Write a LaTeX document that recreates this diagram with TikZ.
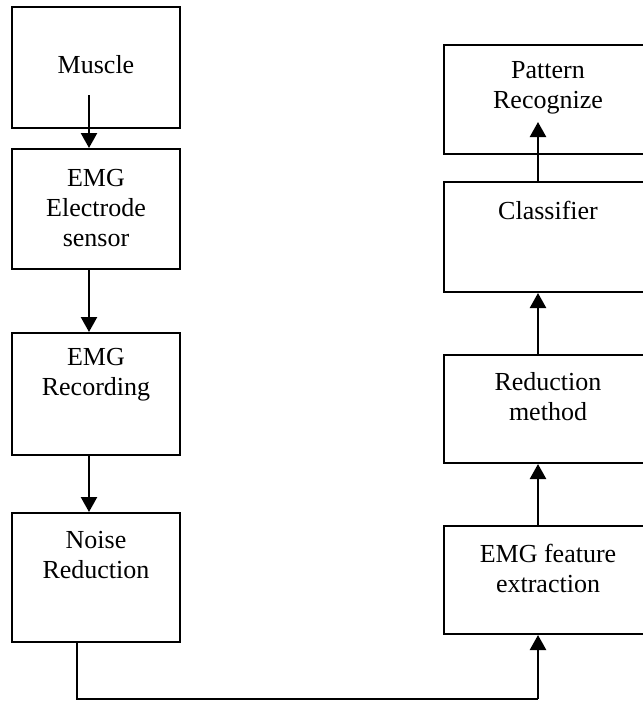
\documentclass[tikz,border=0pt]{standalone}
\usepackage{fontspec}
\setmainfont{Liberation Serif}
\usetikzlibrary{arrows.meta}
\begin{document}
\begin{tikzpicture}[x=1pt,y=-1pt,
  box/.style={draw=black,line width=2pt,rectangle,inner sep=0pt},
  txt/.style={align=center,inner sep=0pt,font=\fontsize{26}{30}\selectfont},
  arr/.style={line width=2.4pt,-{Triangle[length=15pt,width=16pt]}},
  conn/.style={line width=2pt}]
\path[use as bounding box,clip] (0,0) rectangle (643,702);
% left column
\node[box,minimum width=168pt,minimum height=121pt] (muscle) at (96,67.5) {};
\node[txt] (muscleT) at (96,65) {Muscle};
\node[box,minimum width=168pt,minimum height=120pt] (elec) at (96,209) {};
\node[txt] (elecT) at (96,208) {EMG\\Electrode\\sensor};
\node[box,minimum width=168pt,minimum height=122pt] (rec) at (96,394) {};
\node[txt] (recT) at (96,375) {EMG\\Recording};
\node[box,minimum width=168pt,minimum height=129pt] (noise) at (96,577.5) {};
\node[txt] (noiseT) at (96,555) {Noise\\Reduction};
% right column
\node[box,minimum width=208pt,minimum height=109pt] (pat) at (548,99.5) {};
\node[txt] (patT) at (548,87.5) {Pattern\\Recognize};
\node[box,minimum width=208pt,minimum height=110pt] (cls) at (548,237) {};
\node[txt] (clsT) at (548,210) {Classifier};
\node[box,minimum width=208pt,minimum height=108pt] (red) at (548,409) {};
\node[txt] (redT) at (548,397) {Reduction\\method};
\node[box,minimum width=208pt,minimum height=108pt] (feat) at (548,580) {};
\node[txt] (featT) at (548,568) {EMG feature\\extraction};
% arrow coordinates
\coordinate (mstart) at (89,95);
\coordinate (la) at (89,0);
\coordinate (ra) at (538,0);
\coordinate (pend) at (538,122);
\coordinate (c1) at (77,699);
\coordinate (c2) at (538,699);
% left arrows
\draw[arr] (mstart) -- (elec.north -| la);
\draw[arr] (elec.south -| la) -- (rec.north -| la);
\draw[arr] (rec.south -| la) -- (noise.north -| la);
% connector
\draw[conn] (noise.south -| c1) -- (c1) -- (c2);
\draw[arr] (c2) -- (feat.south -| ra);
% right arrows
\draw[arr] (feat.north -| ra) -- (red.south -| ra);
\draw[arr] (red.north -| ra) -- (cls.south -| ra);
\draw[arr] (cls.north -| ra) -- (pend);
\end{tikzpicture}
\end{document}
